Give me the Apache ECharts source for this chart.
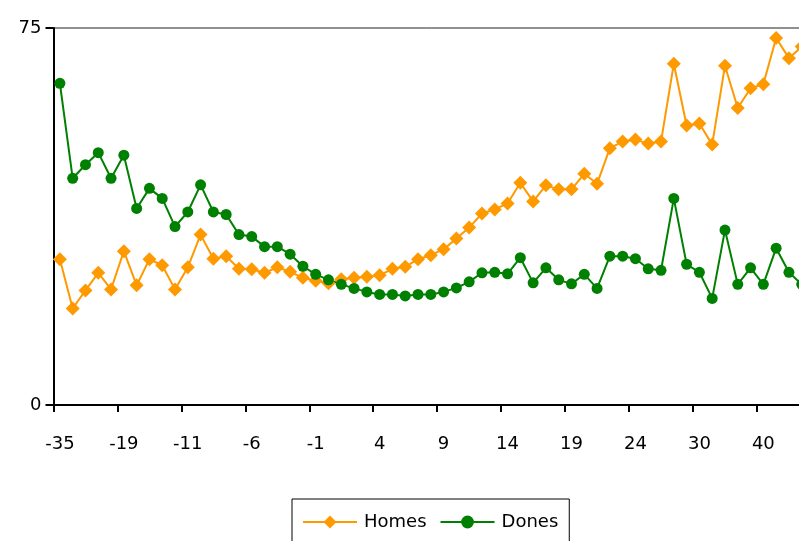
<!DOCTYPE html>
<html>
<head>
<meta charset="utf-8">
<script src="https://cdn.jsdelivr.net/npm/echarts@6/dist/echarts.min.js"></script>
<style>
    html, body {margin: 0; padding: 0; background: #fff;}
    #main {width: 799px; height: 541px;}
</style>
</head>
<body>
<div id="main"></div>
<script>
// x categories (only every 5th one is labelled in the picture)
var categories = [-35, -30, -27, -24, -21, -19, -17, -15, -13, -12,
    -11, -10, -9, -8, -7, -6, -5, -4, -3, -2,
    -1, 0, 1, 2, 3, 4, 5, 6, 7, 8,
    9, 10, 11, 12, 13, 14, 15, 16, 17, 18,
    19, 20, 21, 22, 23, 24, 25, 26, 27, 28,
    30, 31, 33, 35, 37, 40, 41, 43, 45];

var homes = [29.0, 19.2, 22.8, 26.3, 23.0, 30.6, 23.8, 29.0, 27.8, 23.0,
    27.4, 33.9, 29.1, 29.6, 27.1, 27.0, 26.3, 27.4, 26.5, 25.3,
    24.7, 24.2, 25.0, 25.3, 25.5, 25.8, 27.1, 27.5, 29.0, 29.8,
    31.0, 33.1, 35.3, 38.1, 38.9, 40.1, 44.2, 40.5, 43.7, 42.9,
    42.9, 46.0, 44.0, 51.1, 52.4, 52.8, 52.0, 52.4, 67.9, 55.6,
    56.0, 51.8, 67.5, 59.1, 63.0, 63.8, 73.0, 69.0, 71.3];

var dones = [64.0, 45.1, 47.8, 50.2, 45.1, 49.7, 39.1, 43.1, 41.1, 35.5,
    38.4, 43.8, 38.4, 37.9, 33.9, 33.5, 31.5, 31.5, 30.0, 27.6,
    26.0, 24.9, 24.0, 23.2, 22.5, 22.0, 22.0, 21.7, 22.0, 22.0,
    22.5, 23.3, 24.5, 26.3, 26.4, 26.1, 29.3, 24.3, 27.3, 24.9,
    24.1, 26.0, 23.2, 29.6, 29.6, 29.1, 27.1, 26.8, 41.1, 28.0,
    26.4, 21.2, 34.8, 24.0, 27.3, 24.0, 31.2, 26.4, 24.0];

var yMin = 0, yMax = 75;

var font = 'DejaVu Sans';

var option = {
    backgroundColor: '#fff',
    animation: false,
    grid: {
        left: 53.5,
        top: 28,
        width: 12.79 * categories.length,
        height: 377,
        outerBoundsMode: 'none',
        containLabel: false,
        show: true,
        borderColor: '#222',
        borderWidth: 1
    },
    legend: {
        left: 292,
        top: 499,
        padding: [14, 11, 14, 10],
        borderColor: '#000',
        borderWidth: 1,
        itemWidth: 54,
        itemHeight: 16,
        itemGap: 13,
        lineStyle: {width: 2},
        textStyle: {fontFamily: font, fontSize: 18, color: '#000', padding: [0, 0, 0, 2]},
        data: ['Homes', 'Dones']
    },
    xAxis: {
        type: 'category',
        data: categories,
        boundaryGap: true,
        axisLine: {lineStyle: {color: '#000', width: 2}},
        axisTick: {show: true, interval: 4, length: 7, alignWithLabel: false, lineStyle: {color: '#000', width: 2}},
        axisLabel: {interval: 4, margin: 30, fontFamily: font, fontSize: 18, color: '#000'},
        splitLine: {show: false}
    },
    yAxis: {
        type: 'value',
        min: yMin,
        max: yMax,
        interval: 75,
        axisLine: {show: true, lineStyle: {color: '#000', width: 2}},
        axisTick: {show: true, length: 8, lineStyle: {color: '#000', width: 2}},
        axisLabel: {margin: 12, fontFamily: font, fontSize: 18, color: '#000'},
        splitLine: {show: false}
    },
    series: [
        {
            name: 'Homes',
            type: 'line',
            data: homes,
            symbol: 'diamond',
            symbolSize: 14,
            showAllSymbol: true,
            itemStyle: {color: '#ff9900'},
            lineStyle: {color: '#ff9900', width: 2}
        },
        {
            name: 'Dones',
            type: 'line',
            data: dones,
            symbol: 'circle',
            symbolSize: 11,
            showAllSymbol: true,
            itemStyle: {color: '#008000'},
            lineStyle: {color: '#008000', width: 2}
        }
    ]
};

var myChart = echarts.init(document.getElementById('main'));
myChart.setOption(option);
</script>
</body>
</html>
